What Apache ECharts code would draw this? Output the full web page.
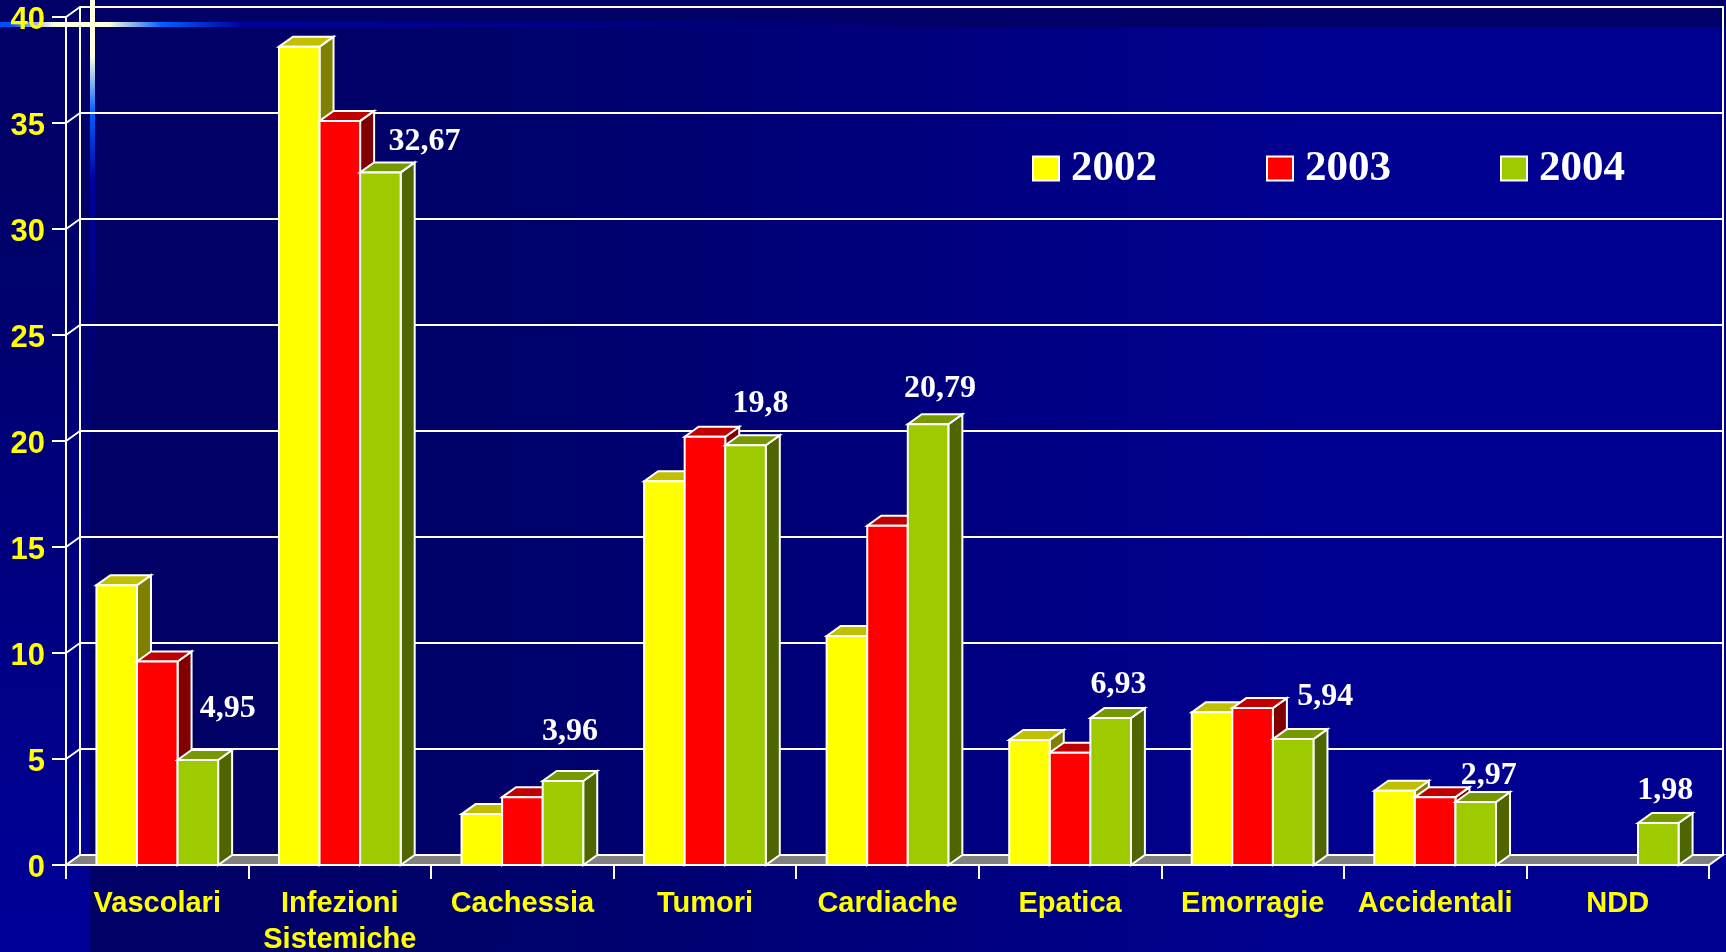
<!DOCTYPE html>
<html>
<head>
<meta charset="utf-8">
<style>
  html, body { margin: 0; padding: 0; background: #000066; }
  #chart { width: 1726px; height: 952px; }
</style>
<script src="https://cdn.jsdelivr.net/npm/echarts@6/dist/echarts.min.js"></script>
</head>
<body>
<div id="chart"></div>
<script>
const categories = ['Vascolari', 'Infezioni\nSistemiche', 'Cachessia', 'Tumori', 'Cardiache', 'Epatica', 'Emorragie', 'Accidentali', 'NDD'];
const years = ['2002', '2003', '2004'];
const values2002 = [13.2, 38.6, 2.4, 18.1, 10.8, 5.9, 7.2, 3.5, null];
const values2003 = [9.6, 35.1, 3.2, 20.2, 16, 5.3, 7.4, 3.2, null];
const values2004 = [4.95, 32.67, 3.96, 19.8, 20.79, 6.93, 5.94, 2.97, 1.98];
const yTicks = [0, 5, 10, 15, 20, 25, 30, 35, 40];

// palette per year: front, top, side
const fronts = ['#ffff00', '#ff0000', '#9ecb00'];
const tops = ['#c0c000', '#c00000', '#769800'];
const sides = ['#808000', '#800000', '#4f6500'];

// depth of the fake 3d box, px
const DX = 14;
const DY = -10;
const GROUP_RATIO = 2 / 3;
const W = 1726;

// the 2004 value labels sit off the bars, px from the bar top centre
const labelShift = [[30, -51], [44, -31], [7, -49], [15, -42], [12, -36], [8, -33], [32, -42], [13, -26], [7, -32]];

const val = (s) => s.replace('.', ',');

const poly = (points, fill) => ({
  type: 'polygon',
  shape: { points },
  style: { fill, stroke: '#fff', lineWidth: 2 },
});

const barSeries = (index, data) => ({
  type: 'custom',
  name: years[index],
  xAxisIndex: 0,
  yAxisIndex: 0,
  z: 5,
  clip: false,
  itemStyle: { color: fronts[index], borderColor: '#fff', borderWidth: 2 },
  data: data.map((v, i) => [i, v]),
  encode: { x: 0, y: 1 },
  renderItem: (params, api) => {
    if (api.value(1) == null || isNaN(api.value(1))) return null;
    const cat = api.value(0);
    const v = api.value(1);
    const bw = (api.size([1, 0])[0] * GROUP_RATIO) / 3;
    const center = api.coord([cat, 0])[0];
    const x0 = center - bw * 1.5 + bw * index;
    const x1 = x0 + bw;
    const yTop = api.coord([cat, v])[1];
    const yBase = api.coord([cat, 0])[1];
    const children = [
      poly([[x1, yTop], [x1 + DX, yTop + DY], [x1 + DX, yBase + DY], [x1, yBase]], sides[index]),
      poly([[x0, yTop], [x0 + DX, yTop + DY], [x1 + DX, yTop + DY], [x1, yTop]], tops[index]),
      poly([[x0, yTop], [x1, yTop], [x1, yBase], [x0, yBase]], fronts[index]),
    ];
    if (index === 2) {
      const shift = labelShift[cat];
      children.push({
        type: 'text',
        x: (x0 + x1) / 2 + shift[0],
        y: yTop + shift[1],
        style: {
          text: val(String(v)),
          fill: '#fff',
          fontFamily: 'Liberation Serif',
          fontWeight: 'bold',
          fontSize: 32,
          align: 'center',
          verticalAlign: 'middle',
        },
      });
    }
    return { type: 'group', children };
  },
});

// side wall links and floor of the box
const frameSeries = {
  type: 'custom',
  xAxisIndex: 0,
  yAxisIndex: 0,
  z: 2,
  silent: true,
  clip: false,
  data: [[0, 0]],
  renderItem: (params, api) => {
    const cs = params.coordSys;
    const children = yTicks.map((t) => {
      const y = api.coord([0, t])[1];
      return {
        type: 'line',
        shape: { x1: cs.x, y1: y, x2: cs.x + DX, y2: y + DY },
        style: { stroke: '#fff', lineWidth: 2 },
      };
    });
    const yBase = cs.y + cs.height;
    const xEnd = cs.x + cs.width;
    children.push({
      type: 'polygon',
      shape: { points: [[cs.x, yBase], [cs.x + DX, yBase + DY], [xEnd + DX, yBase + DY], [xEnd, yBase]] },
      style: { fill: '#808080', stroke: '#fff', lineWidth: 2 },
    });
    return { type: 'group', children };
  },
};

const chart = echarts.init(document.getElementById('chart'));
chart.setOption({
  backgroundColor: '#000066',
  animation: false,
  graphic: {
    elements: [
      {
        type: 'rect',
        z: -10,
        shape: { x: 90, y: 27, width: W - 90, height: 925 },
        style: { fill: new echarts.graphic.LinearGradient(0, 0, 1, 0, [
          { offset: 0, color: '#000066' },
          { offset: 0.25, color: '#00006a' },
          { offset: 0.74, color: '#000090' },
          { offset: 1, color: '#000090' },
        ]) },
      },
      {
        type: 'rect',
        z: -10,
        shape: { x: 0, y: 27, width: 90, height: 925 },
        style: { fill: new echarts.graphic.LinearGradient(0, 0, 0, 1, [
          { offset: 0, color: '#000066' },
          { offset: 0.15, color: '#000066' },
          { offset: 1, color: '#000099' },
        ]) },
      },
      {
        type: 'rect',
        z: -9,
        shape: { x: 0, y: 22, width: 900, height: 5 },
        style: { fill: new echarts.graphic.LinearGradient(0, 0, 1, 0, [
          { offset: 0, color: '#0050ff' },
          { offset: 0.012, color: '#0050ff' },
          { offset: 0.06, color: '#ffffe0' },
          { offset: 0.12, color: '#ffffe0' },
          { offset: 0.18, color: '#0060ff' },
          { offset: 0.27, color: '#000099' },
          { offset: 1, color: '#000070' },
        ]) },
      },
      {
        type: 'rect',
        z: -9,
        shape: { x: 90, y: 0, width: 5, height: 400 },
        style: { fill: new echarts.graphic.LinearGradient(0, 0, 0, 1, [
          { offset: 0, color: '#ffffe0' },
          { offset: 0.14, color: '#ffffe0' },
          { offset: 0.28, color: '#0060ff' },
          { offset: 0.45, color: '#0000a0' },
          { offset: 1, color: '#000066' },
        ]) },
      },
    ],
  },
  legend: {
    left: 1027,
    top: 142,
    itemWidth: 26,
    itemHeight: 24,
    itemGap: 109,
    icon: 'rect',
    textStyle: { color: '#fff', fontFamily: 'Liberation Serif', fontWeight: 'bold', fontSize: 43, padding: [0, 0, 0, 7] },
    data: years,
  },
  grid: [
    { left: 66, top: 17, width: 1643, height: 848, outerBoundsMode: 'none' },
    { left: 66 + DX, top: 17 + DY, width: 1643, height: 848, outerBoundsMode: 'none' },
  ],
  xAxis: [
    {
      type: 'category',
      gridIndex: 0,
      data: categories,
      axisLine: { lineStyle: { color: '#fff', width: 2 } },
      axisTick: { show: true, alignWithLabel: false, length: 14, lineStyle: { color: '#fff', width: 2 } },
      axisLabel: {
        color: '#ffff00',
        fontFamily: 'Liberation Sans',
        fontWeight: 'bold',
        fontSize: 29,
        lineHeight: 36,
        margin: 21,
        interval: 0,
      },
    },
    {
      type: 'category',
      gridIndex: 1,
      data: categories,
      axisLine: { show: false },
      axisTick: { show: false },
      axisLabel: { show: false },
    },
  ],
  yAxis: [
    {
      type: 'value',
      gridIndex: 0,
      min: 0,
      max: 40,
      interval: 5,
      axisLine: { show: true, lineStyle: { color: '#fff', width: 2 } },
      axisTick: { show: true, length: 14, lineStyle: { color: '#fff', width: 2 } },
      axisLabel: {
        margin: 21,
        formatter: '{t|{value}}',
        rich: {
          t: {
            color: '#ffff00',
            fontFamily: 'Liberation Sans',
            fontWeight: 'bold',
            fontSize: 31,
            height: 31,
            padding: [6, 0, 0, 0],
          },
        },
      },
      splitLine: { show: false },
    },
    {
      type: 'value',
      gridIndex: 1,
      min: 0,
      max: 40,
      interval: 5,
      axisLine: { show: true, lineStyle: { color: '#fff', width: 2 } },
      axisTick: { show: false },
      axisLabel: { show: false },
      splitLine: { show: true, lineStyle: { color: '#fff', width: 2 } },
    },
    {
      type: 'value',
      gridIndex: 1,
      position: 'right',
      min: 0,
      max: 40,
      interval: 5,
      axisLine: { show: true, onZero: false, lineStyle: { color: '#fff', width: 2 } },
      axisTick: { show: false },
      axisLabel: { show: false },
      splitLine: { show: false },
    },
  ],
  series: [
    frameSeries,
    barSeries(0, values2002),
    barSeries(1, values2003),
    barSeries(2, values2004),
  ],
});
</script>
</body>
</html>
